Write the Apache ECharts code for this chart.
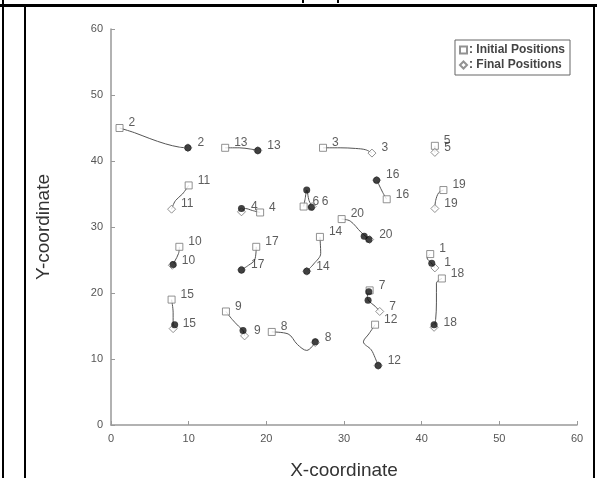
<!DOCTYPE html>
<html>
<head>
<meta charset="utf-8">
<script src="https://cdn.jsdelivr.net/npm/echarts@6/dist/echarts.min.js"></script>
<style>
    html, body { margin: 0; padding: 0; background: #fff; }
    #chart { width: 597px; height: 478px; }
</style>
</head>
<body>
<div id="chart"></div>
<script>
// agent numbers, same order as the position lists below
var agentIds = [1, 2, 3, 4, 5, 6, 7, 8, 9, 10, 11, 12, 13, 14, 15, 16, 17, 18, 19, 20];

var initialPos = [
    [41.1, 25.9], [1.1, 45.0], [27.3, 42.0], [19.2, 32.2], [41.7, 42.3],
    [24.8, 33.1], [33.3, 20.4], [20.7, 14.1], [14.8, 17.2], [8.8, 27.0],
    [10.0, 36.3], [34.0, 15.2], [14.7, 42.0], [26.9, 28.5], [7.8, 19.0],
    [35.5, 34.2], [18.7, 27.0], [42.6, 22.2], [42.8, 35.6], [29.7, 31.2]
];

var finalPos = [
    [41.7, 23.8], [9.9, 42.0], [33.6, 41.2], [16.8, 32.3], [41.7, 41.3],
    [25.9, 33.1], [34.6, 17.2], [26.3, 12.5], [17.2, 13.5], [7.9, 24.2],
    [7.8, 32.7], [34.4, 9.0], [18.9, 41.6], [25.2, 23.3], [8.0, 14.6],
    [34.2, 37.1], [16.8, 23.5], [41.6, 14.8], [41.7, 32.8], [33.3, 28.1]
];

// points along each trajectory between start and end
var pathPoints = [
    [[40.7, 25.3], [41.2, 24.6]],
    [[3.0, 44.3], [5.0, 43.4], [7.0, 42.6], [8.8, 42.1]],
    [[29.5, 42.0], [31.5, 41.9], [32.8, 41.7]],
    [[18.2, 32.5], [17.3, 32.8]],
    [],
    [[25.0, 34.3], [25.2, 35.6], [25.5, 34.0]],
    [[33.0, 19.5], [33.2, 18.8], [34.0, 18.0]],
    [[22.8, 13.8], [24.0, 12.2], [25.2, 11.3]],
    [[15.6, 16.0], [16.4, 15.0], [17.0, 14.3]],
    [[8.7, 26.0], [8.2, 24.8]],
    [[9.2, 35.0], [8.3, 34.0]],
    [[33.2, 13.8], [32.5, 12.6], [33.5, 11.4], [34.0, 10.2]],
    [[16.5, 42.0], [18.0, 41.8]],
    [[27.0, 26.0], [26.1, 24.4]],
    [[8.0, 17.0]],
    [[35.0, 35.2], [34.5, 36.4]],
    [[18.5, 25.0], [17.7, 24.2]],
    [[41.9, 21.5], [41.9, 18.5], [41.8, 16.0]],
    [[42.2, 35.2], [41.8, 34.0]],
    [[30.8, 30.9], [32.2, 29.2]]
];

// dark spots where the paths pile up
var densePos = [
    [9.9, 42.0], [18.9, 41.6], [34.2, 37.1], [16.8, 32.8], [25.2, 35.6],
    [25.8, 33.0], [32.6, 28.6], [33.2, 28.1], [8.0, 24.3], [16.8, 23.5],
    [25.2, 23.3], [41.3, 24.5], [33.2, 20.2], [33.1, 18.9], [8.2, 15.2],
    [17.0, 14.3], [26.3, 12.6], [34.4, 9.0], [41.6, 15.2]
];

var fontName = 'Liberation Sans';

var chart = echarts.init(document.getElementById('chart'));

var series = [];
agentIds.forEach(function (id, i) {
    series.push({
        type: 'line',
        name: 'path' + id,
        data: [initialPos[i]].concat(pathPoints[i], [finalPos[i]]),
        showSymbol: false,
        smooth: 0.35,
        silent: true,
        lineStyle: { color: '#555', width: 1 },
        z: 2
    });
});

var markLabel = {
    show: true,
    position: 'right',
    distance: 5,
    offset: [0, -5],
    fontSize: 12,
    fontFamily: fontName,
    color: '#333',
    formatter: function (p) { return String(p.value[2]); }
};

series.push({
    type: 'scatter',
    name: 'Initial Positions',
    data: initialPos.map(function (p, i) { return [p[0], p[1], agentIds[i]]; }),
    symbol: 'rect',
    symbolSize: 7,
    itemStyle: { color: '#fff', borderColor: '#777', borderWidth: 1 },
    label: markLabel,
    z: 3
});

series.push({
    type: 'scatter',
    name: 'Final Positions',
    data: finalPos.map(function (p, i) { return [p[0], p[1], agentIds[i]]; }),
    symbol: 'diamond',
    symbolSize: 8,
    itemStyle: { color: '#fff', borderColor: '#777', borderWidth: 1 },
    label: markLabel,
    z: 3
});

series.push({
    type: 'scatter',
    name: 'dense',
    data: densePos,
    symbol: 'circle',
    symbolSize: 7,
    itemStyle: { color: '#111' },
    silent: true,
    z: 5
});

var axisCommon = {
    type: 'value',
    min: 0,
    max: 60,
    interval: 10,
    nameLocation: 'middle',
    nameTextStyle: { fontSize: 19, color: '#333', fontFamily: fontName },
    axisLine: { show: true, onZero: false, lineStyle: { color: '#999', width: 1.5 } },
    axisTick: { show: true, inside: true, length: 4, lineStyle: { color: '#999' } },
    axisLabel: { color: '#555', fontSize: 11, fontFamily: fontName, margin: 8 },
    splitLine: { show: false }
};

var option = {
    animation: false,
    backgroundColor: '#fff',
    grid: { left: 111, right: 20, top: 29, bottom: 53, containLabel: false, outerBoundsMode: 'none' },
    xAxis: Object.assign({}, axisCommon, { name: 'X-coordinate', nameGap: 36 }),
    yAxis: Object.assign({}, axisCommon, { name: 'Y-coordinate', nameGap: 58 }),
    legend: {
        data: ['Initial Positions', 'Final Positions'],
        orient: 'vertical',
        right: 27,
        top: 40,
        itemWidth: 7,
        itemHeight: 7,
        itemGap: 3,
        padding: [4, 5, 4, 4],
        borderColor: '#666',
        borderWidth: 1,
        formatter: function (name) { return ': ' + name; },
        textStyle: { fontSize: 12, fontWeight: 'bold', color: '#444', fontFamily: fontName, padding: [0, 0, 0, -3] }
    },
    graphic: [
        { type: 'rect', shape: { x: 0, y: 4, width: 597, height: 3 }, style: { fill: '#000' } },
        { type: 'rect', shape: { x: 2, y: 0, width: 2, height: 478 }, style: { fill: '#000' } },
        { type: 'rect', shape: { x: 24, y: 5, width: 2, height: 473 }, style: { fill: '#000' } },
        { type: 'rect', shape: { x: 593, y: 5, width: 2, height: 473 }, style: { fill: '#000' } },
        { type: 'rect', shape: { x: 302, y: 0, width: 2, height: 3 }, style: { fill: '#000' } },
        { type: 'rect', shape: { x: 337, y: 0, width: 2, height: 3 }, style: { fill: '#000' } }
    ],
    series: series
};

chart.setOption(option);
</script>
</body>
</html>
